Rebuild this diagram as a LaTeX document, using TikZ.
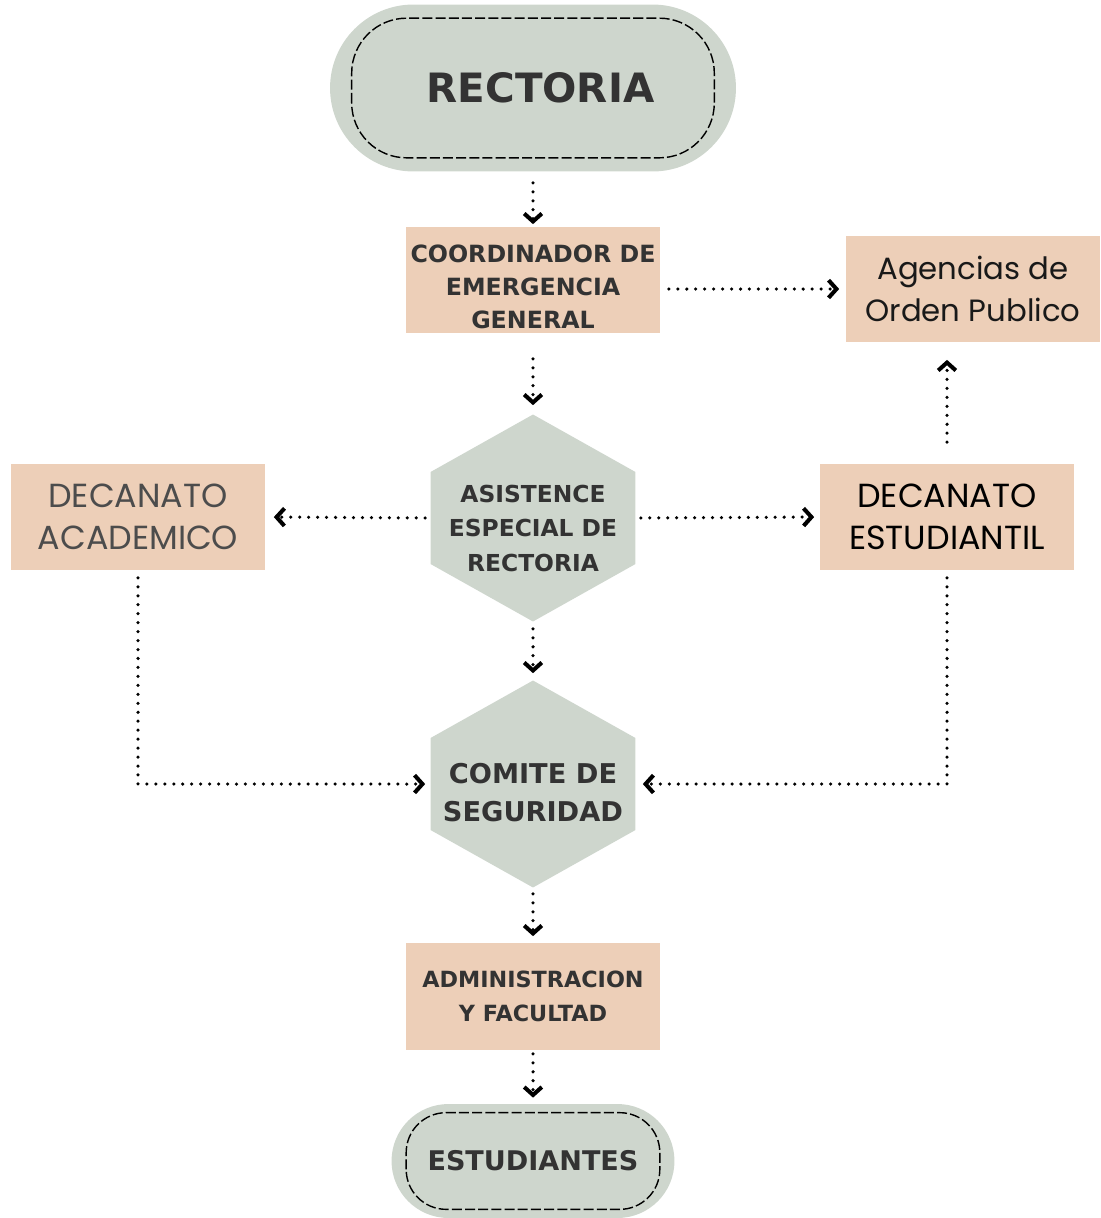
\documentclass[tikz,border=0pt]{standalone}
\usepackage{fontspec}
\setmainfont{DejaVu Sans}
\newfontfamily\gothic{Poppins}
\usetikzlibrary{shapes.misc,arrows.meta,calc}
\definecolor{sage}{HTML}{CED6CD}
\definecolor{peach}{HTML}{EDCFB8}
\definecolor{ink}{HTML}{333333}
\newcommand\hexlift{\rule{0pt}{21.5pt}}
\tikzset{
    flow/.style={line width=2pt, line cap=round, dash pattern=on 0pt off 5.1pt,
        -{Straight Barb[length=4.5pt, width=10pt, line width=2.3pt]}},
    pill/.style={rounded rectangle, fill=sage, inner sep=0pt, text=ink},
    dashline/.style={line width=0.8pt, dash pattern=on 5.7pt off 1.8pt},
    box/.style={rectangle, fill=peach, minimum width=5.1cm, minimum height=2.14cm,
        inner sep=0pt, align=center},
    boldbox/.style={box, text=ink, font=\bfseries\fontsize{13.5}{18.8}\selectfont},
    thinbox/.style={box, font=\gothic\fontsize{19}{24}\selectfont},
    hexbox/.style={rectangle, fill=white, minimum width=4.1cm, minimum height=4.14cm,
        inner sep=0pt, align=center, text=ink,
        path picture={
            \fill[sage] (path picture bounding box.north)
                -- ([yshift=-1.15cm]path picture bounding box.north east)
                -- ([yshift=1.15cm]path picture bounding box.south east)
                -- (path picture bounding box.south)
                -- ([yshift=1.15cm]path picture bounding box.south west)
                -- ([yshift=-1.15cm]path picture bounding box.north west) -- cycle;
        }}
}
\begin{document}
\begin{tikzpicture}[x=0.02cm, y=-0.02cm]
        \useasboundingbox (0, 0) rectangle (1100, 1218);

        \node[pill, minimum width=8.12cm, minimum height=3.34cm,
            font=\bfseries\fontsize{23}{27}\selectfont] (rect) at (533, 88) {\hspace{0.3cm}RECTORIA};
        \draw[dashline, rounded corners=1.1cm] ($(rect.west |- rect.south)+(22, -14)$)
            rectangle ($(rect.east |- rect.north)+(-22, 14)$);

        \node[boldbox] (coord) at (533, 280) {\rule{0pt}{18pt}COORDINADOR DE\\EMERGENCIA\\GENERAL};
        \node[thinbox, font=\gothic\fontsize{17.5}{23.5}\selectfont, text=black!90] (agen) at (973, 289)
            {Agencias de\\Orden Publico};
        \node[hexbox, font=\bfseries\fontsize{13.3}{19.6}\selectfont] (asis) at (533, 518)
            {\hexlift ASISTENCE\\ESPECIAL DE\\RECTORIA};
        \node[thinbox, text=black!70] (dacad) at (138, 517) {DECANATO\\ACADEMICO};
        \node[thinbox, text=black] (dest) at (947, 517) {DECANATO\\ESTUDIANTIL};
        \node[hexbox, font=\bfseries\fontsize{15.5}{21.6}\selectfont] (comite) at (533, 784)
            {\hexlift COMITE DE\\SEGURIDAD};
        \node[boldbox, font=\bfseries\fontsize{12.7}{19.3}\selectfont] (admin) at (533, 996)
            {ADMINISTRACION\\Y FACULTAD};

        \node[pill, minimum width=5.66cm, minimum height=2.28cm,
            font=\bfseries\fontsize{15.4}{19}\selectfont] (estud) at (533, 1161) {ESTUDIANTES};
        \draw[dashline, rounded corners=0.8cm] ($(estud.west |- estud.south)+(15, -9)$)
            rectangle ($(estud.east |- estud.north)+(-15, 9)$);

        \draw [flow, shorten <=0.22cm, shorten >=0.04cm] (rect) -- (coord);
        \draw [flow, shorten <=0.16cm, shorten >=0.12cm] (coord.east |- agen.west) -- (agen.west);
        \draw [flow, shorten <=0.5cm, shorten >=0.18cm] (coord) -- (asis);
        \draw [flow, shorten <=0.1cm, shorten >=0.16cm] (asis.west) -- (dacad.east);
        \draw [flow, shorten <=0.1cm, shorten >=0.1cm] (asis.east) -- (dest.west);
        \draw [flow, shorten <=0.42cm, shorten >=0.34cm] (dest.north) -- (dest.north |- agen.south);
        \draw [flow, shorten <=0.14cm, shorten >=0.14cm] (asis) -- (comite);
        \draw [flow, shorten <=0.14cm, shorten >=0.1cm] (dacad.south) |- (comite.west);
        \draw [flow, shorten <=0.14cm, shorten >=0.14cm] (dest.south) |- (comite.east);
        \draw [flow, shorten <=0.12cm, shorten >=0.12cm] (comite) -- (admin);
        \draw [flow, shorten <=0.08cm, shorten >=0.12cm] (admin) -- (estud);
    \end{tikzpicture}
\end{document}
